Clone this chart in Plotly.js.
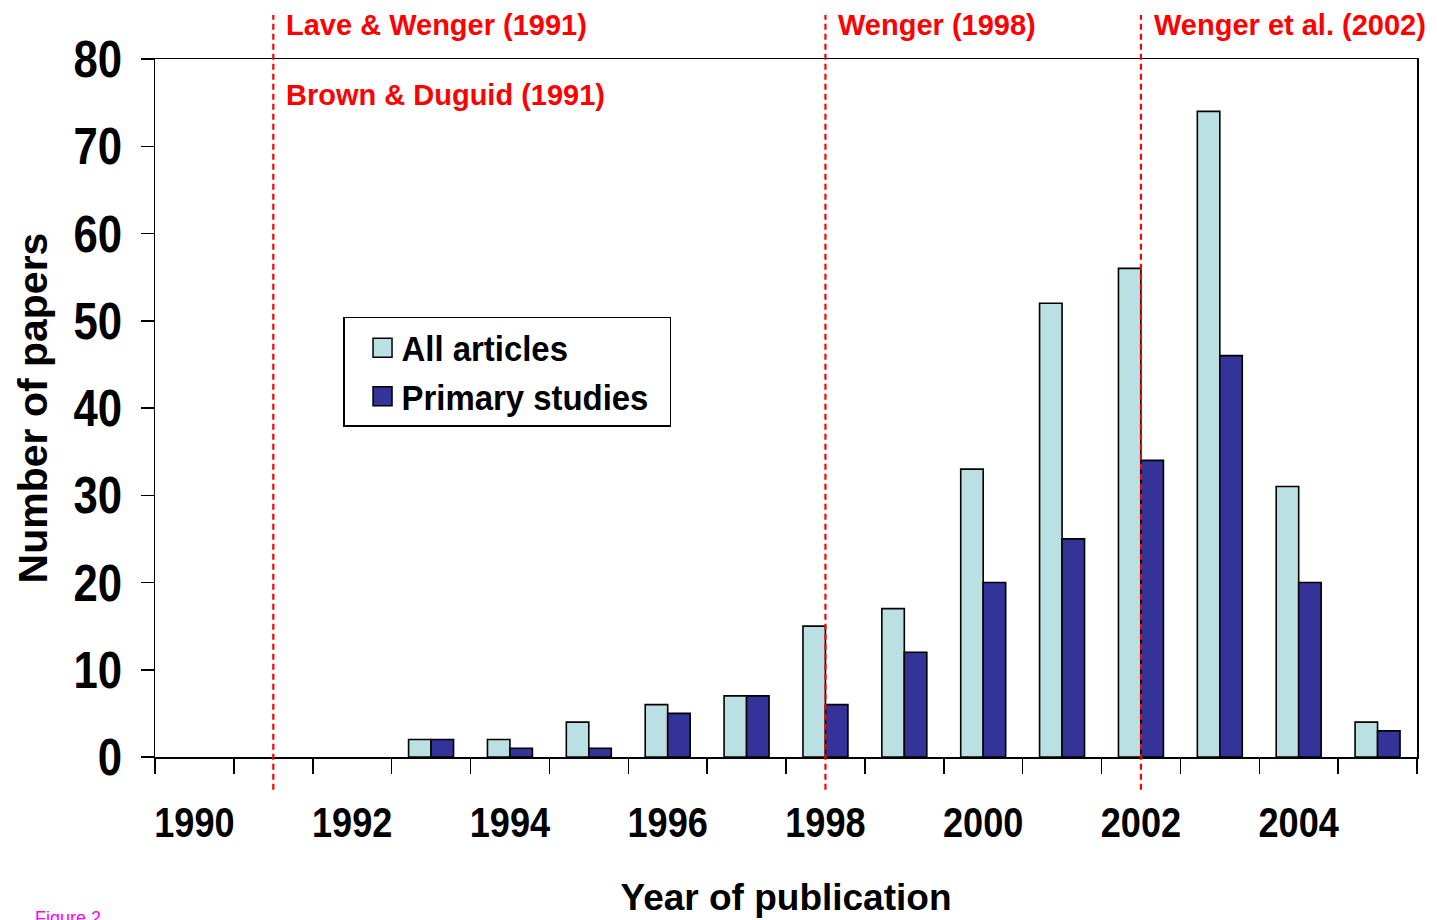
<!DOCTYPE html>
<html>
<head>
<meta charset="utf-8">
<script src="https://cdn.plot.ly/plotly-3.0.1.min.js"></script>
<style>
  html, body { margin: 0; padding: 0; background: #ffffff; }
  #chart { width: 1437px; height: 920px; }
</style>
</head>
<body>
<div id="chart"></div>
<script>
const years = ['1990','1991','1992','1993','1994','1995','1996','1997','1998','1999','2000','2001','2002','2003','2004','2005'];
const allArticles    = [0, 0, 0, 2, 2, 4, 6, 7, 15, 17, 33, 52, 56, 74, 31, 4];
const primaryStudies = [0, 0, 0, 2, 1, 1, 5, 7, 6, 12, 20, 25, 34, 46, 20, 3];
const yearLabels = ['1990','','1992','','1994','','1996','','1998','','2000','','2002','','2004',''];
const milestoneYears = ['1991', '1998', '2002'];
const milestoneTexts = ['Lave & Wenger (1991)', 'Wenger (1998)', 'Wenger et al. (2002)'];
const extraMilestoneYear = '1991';
const extraMilestoneText = 'Brown & Duguid (1991)';
const seriesNames = ['All articles', 'Primary studies'];

const font = '"Liberation Sans", Arial, Helvetica, sans-serif';
// no outline for empty (zero) bars, as in the original
const outline = vals => vals.map(v => (v === 0 ? 0 : 1.6));

const traces = [
  {
    type: 'bar', name: seriesNames[0], x: years, y: allArticles,
    marker: { color: '#bbe0e3', line: { color: '#000000', width: outline(allArticles) } }
  },
  {
    type: 'bar', name: seriesNames[1], x: years, y: primaryStudies,
    marker: { color: '#333399', line: { color: '#000000', width: outline(primaryStudies) } }
  }
];

const idx = yr => years.indexOf(yr);

const shapes = milestoneYears.map(yr => ({
  type: 'line', xref: 'x', yref: 'paper',
  x0: idx(yr), x1: idx(yr), y0: -0.047, y1: 1.063,
  xshift: -2,
  line: { color: '#ff0000', width: 2.2, dash: '6px,4px' }
}));

const redFont = { family: font, size: 29, color: '#ff0000', weight: 'bold' };
const annotations = milestoneTexts.map((t, i) => ({
  xref: 'x', yref: 'paper', x: idx(milestoneYears[i]), y: 1.0487,
  xanchor: 'left', yanchor: 'middle', xshift: 11,
  text: t, showarrow: false, font: redFont
}));
annotations.push({
  xref: 'x', yref: 'paper', x: idx(extraMilestoneYear), y: 0.948,
  xanchor: 'left', yanchor: 'middle', xshift: 11,
  text: extraMilestoneText, showarrow: false, font: redFont
});
annotations.push({
  xref: 'paper', yref: 'paper', x: -0.0967, y: -0.2135,
  xanchor: 'left', yanchor: 'top',
  text: 'Figure 2', showarrow: false,
  font: { family: font, size: 18, color: '#ff00ff' }
});

const layout = {
  width: 1437, height: 920,
  margin: { l: 155, r: 20, t: 59, b: 163 },
  paper_bgcolor: '#ffffff', plot_bgcolor: '#ffffff',
  barmode: 'group', bargap: 0.43, bargroupgap: 0,
  showlegend: true,
  legend: {
    x: 0.149, y: 0.6304, xanchor: 'left', yanchor: 'top',
    bordercolor: '#000000', borderwidth: 1.5, bgcolor: '#ffffff',
    font: { family: font, size: 35, color: '#000000', weight: 'bold' },
    itemwidth: 47, tracegroupgap: 0
  },
  xaxis: {
    type: 'category', categoryorder: 'array', categoryarray: years,
    range: [-0.5, 15.5],
    tickmode: 'array', tickvals: years, ticktext: yearLabels,
    tickson: 'boundaries', ticks: 'outside', ticklen: 15, tickwidth: 1.5, tickcolor: '#000000',
    showline: true, linecolor: '#000000', linewidth: 1.5, mirror: true,
    showgrid: false, zeroline: false, tickangle: 0, ticklabelstandoff: 28,
    tickfont: { family: font, size: 42, color: '#000000', weight: 'bold' },
    title: { text: 'Year of publication', standoff: 39,
             font: { family: font, size: 37, color: '#000000', weight: 'bold' } }
  },
  yaxis: {
    range: [0, 80], dtick: 10, tick0: 0,
    ticks: 'outside', ticklen: 13, tickwidth: 1.5, tickcolor: '#000000',
    showline: true, linecolor: '#000000', linewidth: 1.5, mirror: true,
    showgrid: false, zeroline: false, ticklabelstandoff: 8,
    tickfont: { family: font, size: 52, color: '#000000', weight: 'bold' },
    title: { text: 'Number of papers', standoff: 4,
             font: { family: font, size: 41, color: '#000000', weight: 'bold' } }
  },
  shapes: shapes,
  annotations: annotations
};

function condense(selector, factor) {
  document.querySelectorAll(selector).forEach(t => {
    const w = t.getComputedTextLength();
    if (w > 0) {
      t.setAttribute('textLength', (w * factor).toFixed(2));
      t.setAttribute('lengthAdjust', 'spacingAndGlyphs');
    }
  });
}

Plotly.newPlot('chart', traces, layout, { displayModeBar: false, staticPlot: true }).then(gd => {
  condense('#chart .xtick text', 0.86);
  condense('#chart .ytick text', 0.84);
  condense('#chart .legendtext', 0.94);
  document.querySelectorAll('#chart .legendpoints path').forEach(p => {
    p.setAttribute('d', 'M19,9.5H0V-9.5H19Z');
    p.style.stroke = '#000000';
    p.style.strokeWidth = '1.5px';
  });
});
</script>
</body>
</html>
